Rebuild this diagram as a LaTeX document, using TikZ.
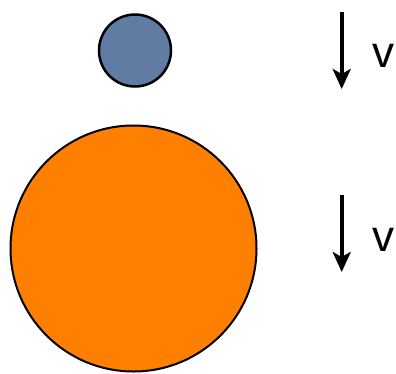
\documentclass[tikz,border=0pt]{standalone}
\usepackage{fontspec}
\setmainfont{Liberation Sans}
\usetikzlibrary{arrows.meta}
\definecolor{ballblue}{RGB}{96,124,162}
\definecolor{ballorange}{RGB}{255,128,0}
\tikzset{
  ball/.style={circle, draw=black, inner sep=0pt},
  velarrow/.style={line width=3.8pt, -{Stealth[length=20pt,width=18pt,inset=5pt]}},
  vlabel/.style={inner sep=0pt, font=\fontsize{44}{44}\selectfont}
}
\begin{document}
\begin{tikzpicture}[x=1pt,y=-1pt]
\useasboundingbox (0,0) rectangle (396,373);
\node[ball, fill=ballblue, line width=2.5pt, minimum size=72pt] (small) at (135,50.5) {};
\node[ball, fill=ballorange, line width=2pt, minimum size=246pt] (big) at (133.5,248.5) {};
\coordinate (a1s) at (341.7,12);
\coordinate (a1e) at (341.7,89);
\coordinate (a2s) at (341.7,195);
\coordinate (a2e) at (341.7,272);
\draw[velarrow] (a1s) -- (a1e);
\draw[velarrow] (a2s) -- (a2e);
\node[vlabel] (v1) at (383.5,56) {v};
\node[vlabel] (v2) at (383.5,240) {v};
\end{tikzpicture}
\end{document}
